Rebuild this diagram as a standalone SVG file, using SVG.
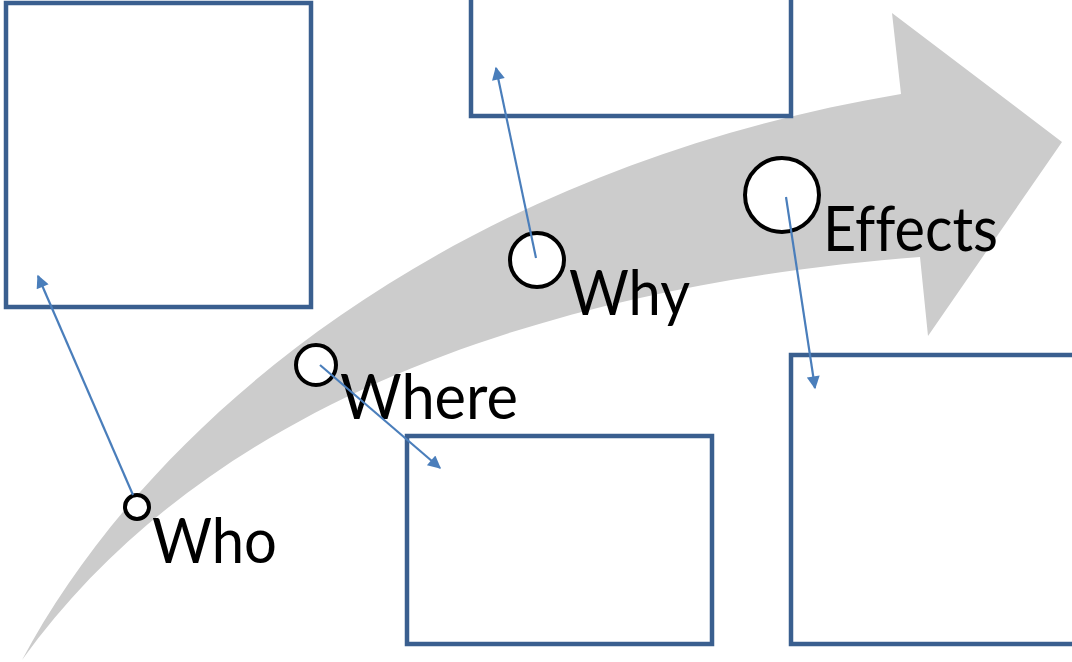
<svg xmlns="http://www.w3.org/2000/svg" width="1072" height="662" viewBox="0 0 1072 662">
<style>
.box{fill:#fff;stroke:#3A5F8F;stroke-width:4.5}
.dot{fill:#fff;stroke:#000;stroke-width:4}
.lbl{font-family:Lato,"Liberation Sans",sans-serif;font-size:61px;fill:#000;font-variant-ligatures:none}
.con{stroke:#4A7EBB;stroke-width:2.2;fill:none;marker-end:url(#ah)}
</style>
<defs>
<marker id="ah" viewBox="0 0 10 10" refX="9" refY="5" markerWidth="15" markerHeight="13" markerUnits="userSpaceOnUse" orient="auto"><path d="M0,0 L10,5 L0,10 z" fill="#4A7EBB"/></marker>
</defs>
<rect width="1072" height="662" fill="#fff"/>
<path id="bigarrow" d="M22,660 C150,420 450,170 901,94 L892,13 L1062,142 L928,336 L920,257 C620,280 230,370 22,660 Z" fill="#CCCCCC"/>
<g id="box-who"><rect class="box" x="6" y="3" width="305" height="304"/></g>
<g id="box-why"><rect class="box" x="471" y="-10" width="320" height="126"/></g>
<g id="box-where"><rect class="box" x="407" y="436" width="305" height="208"/></g>
<g id="box-effects"><rect class="box" x="791" y="355" width="290" height="289"/></g>
<g id="node-who"><circle class="dot" cx="137" cy="507" r="12"/><text class="lbl" x="152" y="563" textLength="125" lengthAdjust="spacingAndGlyphs">Who</text></g>
<g id="node-where"><circle class="dot" cx="316" cy="365" r="20"/><text class="lbl" x="340" y="419" textLength="178" lengthAdjust="spacingAndGlyphs">Where</text></g>
<g id="node-why"><circle class="dot" cx="537" cy="260" r="27"/><text class="lbl" x="569" y="315" textLength="121" lengthAdjust="spacingAndGlyphs">Why</text></g>
<g id="node-effects"><circle class="dot" cx="782" cy="195" r="37"/><text class="lbl" x="823" y="251" textLength="175" lengthAdjust="spacingAndGlyphs">Effects</text></g>
<g id="connectors">
<line class="con" x1="133" y1="495" x2="38" y2="276"/>
<line class="con" x1="320" y1="365" x2="440" y2="468"/>
<line class="con" x1="536" y1="258" x2="496" y2="68"/>
<line class="con" x1="786" y1="197" x2="815" y2="388"/>
</g>
</svg>
